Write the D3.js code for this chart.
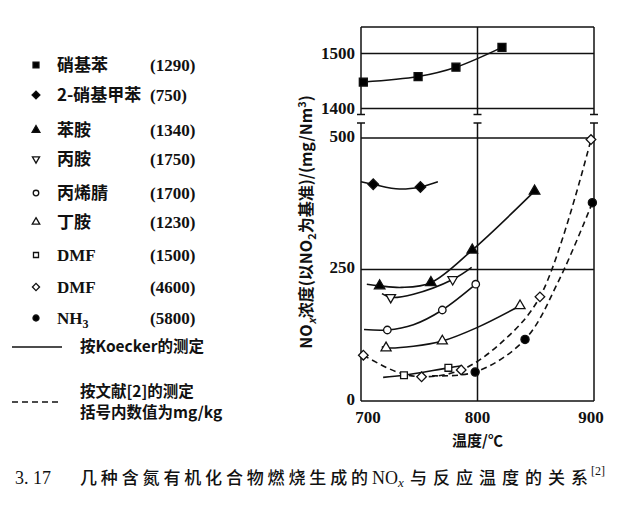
<!DOCTYPE html>
<html><head><meta charset="utf-8">
<script src="https://cdn.jsdelivr.net/npm/d3@7"></script>
<style>
html,body{margin:0;padding:0;background:#fff;}
svg{display:block;}
.cjk{font-family:"Noto Sans CJK SC","Noto Sans",sans-serif;font-weight:700;}
.ser{font-family:"Liberation Serif","DejaVu Serif",serif;}
</style></head>
<body>
<script>
// ---------- data ----------
const xTicks = [700, 800, 900];
const yTicksUpper = [1400, 1500];
const yTicksLower = [0, 250, 500];

// legend entries
const legendNames = ["硝基苯", "2-硝基甲苯", "苯胺", "丙胺", "丙烯腈", "丁胺", "DMF", "DMF", "NH3"];
const legendValues = ["(1290)", "(750)", "(1340)", "(1750)", "(1700)", "(1230)", "(1500)", "(4600)", "(5800)"];

// markers [temperature, NOx]
const nitrobenzenePts = [[702, 1448], [749, 1458], [781.5, 1475], [821, 1511]];
const nitrotoluenePts = [[710.5, 412], [751, 407]];
const anilinePts = [[716, 219], [760, 225], [795.5, 287], [849, 399]];
const propylaminePts = [[725.5, 197], [778.7, 231]];
const acrylonitrilePts = [[722.6, 135], [769.8, 173], [798.5, 222]];
const butylaminePts = [[721.5, 101], [769.8, 114], [836.5, 181]];
const dmf1500Pts = [[736.9, 49], [775, 63]];
const dmf4600Pts = [[702, 87], [752, 46], [786, 59], [853.6, 198], [897.4, 497]];
const nh3Pts = [[798, 55], [840.8, 117], [898.6, 377]];

// curve knots [temperature, NOx]
const nitrobenzeneCurve = [[702, 1448], [749, 1458], [781.5, 1475], [821, 1511]];
const nitrotolueneCurve = [[700, 417], [710.5, 412], [733, 403], [751, 407], [766, 417]];
const anilineCurve = [[705, 222], [716, 219], [735, 216], [760, 225], [795.5, 287], [849, 399]];
const propylamineCurve = [[718, 204], [725.5, 197], [745, 203], [778.7, 231], [795, 254]];
const acrylonitrileCurve = [[702.6, 136], [722.6, 135], [745, 145], [769.8, 173], [798.5, 222]];
const butylamineCurve = [[717.8, 103], [721.5, 101], [745, 104], [769.8, 114], [800, 140], [836.5, 181]];
const dmf1500Curve = [[719, 45], [736.9, 49], [775, 63], [787, 67]];
const dmf4600Curve = [[702, 87], [730, 56], [752, 46], [786, 59], [820, 110], [853.6, 198], [897.4, 497]];
const nh3Curve = [[761, 48], [798, 55], [840.8, 117], [870, 230], [898.6, 377]];

// ---------- styles ----------
const series = [
  {pts: nitrobenzenePts, curve: nitrobenzeneCurve, panel: "U", sym: "square", fill: "#000", size: 64, dash: null},
  {pts: nitrotoluenePts, curve: nitrotolueneCurve, panel: "L", sym: "diamond", fill: "#000", size: 56, dash: null},
  {pts: anilinePts, curve: anilineCurve, panel: "L", sym: "triangle", fill: "#000", size: 48, dash: null},
  {pts: propylaminePts, curve: propylamineCurve, panel: "L", sym: "tridown", fill: "#fff", size: 40, dash: null},
  {pts: acrylonitrilePts, curve: acrylonitrileCurve, panel: "L", sym: "circle", fill: "#fff", size: 44, dash: null},
  {pts: butylaminePts, curve: butylamineCurve, panel: "L", sym: "triangle", fill: "#fff", size: 44, dash: null},
  {pts: dmf1500Pts, curve: dmf1500Curve, panel: "L", sym: "square", fill: "#fff", size: 46, dash: null},
  {pts: dmf4600Pts, curve: dmf4600Curve, panel: "L", sym: "diamond", fill: "#fff", size: 46, dash: "6,4"},
  {pts: nh3Pts, curve: nh3Curve, panel: "L", sym: "circle", fill: "#000", size: 52, dash: "6,4"}
];

const W = 636, H = 506;
const svg = d3.select("body").append("svg").attr("width", W).attr("height", H);

const x = d3.scaleLinear().domain([700, 900]).range([361, 594]);
const yU = d3.scaleLinear().domain([1400, 1548]).range([108.5, 27]);
const yL = d3.scaleLinear().domain([0, 500]).range([401, 138]);

const ink = "#111";
const g = svg.append("g");

// upper panel frame
const uTop = yU.range()[1];
g.append("line").attr("x1", x(700)).attr("x2", x(900)).attr("y1", uTop).attr("y2", uTop).attr("stroke", ink).attr("stroke-width", 1.5);
yTicksUpper.forEach(v => {
  g.append("line").attr("x1", x(700)).attr("x2", x(900)).attr("y1", yU(v)).attr("y2", yU(v)).attr("stroke", ink).attr("stroke-width", 1.5);
});
const uBreak = yU(1400) + 6;
const lBreak = yL(500) - 15;
xTicks.forEach(t => {
  g.append("line").attr("x1", x(t)).attr("x2", x(t)).attr("y1", uTop).attr("y2", uBreak).attr("stroke", ink).attr("stroke-width", 1.5);
  g.append("line").attr("x1", x(t) - 4).attr("x2", x(t) + 4).attr("y1", uBreak).attr("y2", uBreak).attr("stroke", ink).attr("stroke-width", 1.5);
  g.append("line").attr("x1", x(t)).attr("x2", x(t)).attr("y1", lBreak).attr("y2", yL(0)).attr("stroke", ink).attr("stroke-width", 1.5);
  g.append("line").attr("x1", x(t) - 4).attr("x2", x(t) + 4).attr("y1", lBreak).attr("y2", lBreak).attr("stroke", ink).attr("stroke-width", 1.5);
});
yTicksLower.forEach(v => {
  g.append("line").attr("x1", x(700)).attr("x2", x(900)).attr("y1", yL(v)).attr("y2", yL(v)).attr("stroke", ink).attr("stroke-width", 1.5);
});

// tick labels
yTicksUpper.forEach(v => {
  g.append("text").attr("class", "ser").attr("font-weight", 700).attr("x", 355).attr("y", yU(v)).attr("dy", "0.35em")
    .attr("text-anchor", "end").attr("font-size", 17).attr("fill", ink).text(v);
});
yTicksLower.forEach(v => {
  g.append("text").attr("class", "ser").attr("font-weight", 700).attr("x", 355).attr("y", yL(v) - 2).attr("dy", "0.35em")
    .attr("text-anchor", "end").attr("font-size", 17).attr("fill", ink).text(v);
});
const xLabelShift = {700: 7, 800: 0, 900: -3};
xTicks.forEach(t => {
  g.append("text").attr("class", "ser").attr("font-weight", 700).attr("x", x(t) + xLabelShift[t]).attr("y", yL(0) + 22)
    .attr("text-anchor", "middle").attr("font-size", 17).attr("fill", ink).text(t);
});

// axis titles
g.append("text").attr("class", "cjk").attr("x", x(800)).attr("y", 446)
  .attr("text-anchor", "middle").attr("font-size", 15).attr("fill", ink).text("温度/℃");

const yt = g.append("text").attr("class", "cjk").attr("transform", "translate(312,222) rotate(-90)")
  .attr("text-anchor", "middle").attr("font-size", 16).attr("fill", ink);
yt.append("tspan").text("NO");
yt.append("tspan").attr("font-style", "italic").attr("font-size", 11).attr("dy", 4).text("x");
yt.append("tspan").attr("dy", -4).text("浓度(以NO");
yt.append("tspan").attr("font-size", 11).attr("dy", 4).text("2");
yt.append("tspan").attr("dy", -4).text("为基准)/(mg/Nm");
yt.append("tspan").attr("font-size", 11).attr("dy", -6).text("3");
yt.append("tspan").attr("dy", 6).text(")");

// symbols
function symPath(sym, size) {
  if (sym === "square") return d3.symbol(d3.symbolSquare, size)();
  if (sym === "diamond") return d3.symbol(d3.symbolSquare, size)();
  if (sym === "triangle" || sym === "tridown") return d3.symbol(d3.symbolTriangle, size)();
  return d3.symbol(d3.symbolCircle, size)();
}
function symRot(sym) {
  if (sym === "diamond") return 45;
  if (sym === "tridown") return 180;
  return 0;
}

const line = (yS) => d3.line().x(d => x(d[0])).y(d => yS(d[1])).curve(d3.curveCatmullRom.alpha(0.5));

series.forEach(s => {
  const yS = s.panel === "U" ? yU : yL;
  g.append("path").attr("d", line(yS)(s.curve)).attr("fill", "none").attr("stroke", ink)
    .attr("stroke-width", 1.6).attr("stroke-dasharray", s.dash);
});
series.forEach(s => {
  const yS = s.panel === "U" ? yU : yL;
  g.selectAll(null).data(s.pts).enter().append("path")
    .attr("d", symPath(s.sym, s.size))
    .attr("transform", d => `translate(${x(d[0])},${yS(d[1])}) rotate(${symRot(s.sym)})`)
    .attr("fill", s.fill).attr("stroke", ink).attr("stroke-width", 1.3);
});

// legend
const legendY = [65, 95, 130, 159, 193, 222, 255, 287, 318];
series.forEach((s, i) => {
  const yy = legendY[i];
  g.append("path").attr("d", symPath(s.sym, s.size * 0.55))
    .attr("transform", `translate(36,${yy}) rotate(${symRot(s.sym)})`)
    .attr("fill", s.fill).attr("stroke", ink).attr("stroke-width", 1.3);
  const name = legendNames[i];
  const t = g.append("text").attr("x", 57).attr("y", yy).attr("dy", "0.35em").attr("font-size", 17).attr("fill", ink);
  if (name === "NH3") {
    t.attr("class", "ser").attr("font-weight", 700);
    t.append("tspan").text("NH");
    t.append("tspan").attr("font-size", 12).attr("dy", 4).text("3");
  } else if (name === "DMF") {
    t.attr("class", "ser").attr("font-weight", 700).text(name);
  } else {
    t.attr("class", "cjk").text(name);
  }
  g.append("text").attr("class", "ser").attr("font-weight", 700).attr("x", 150).attr("y", yy).attr("dy", "0.35em")
    .attr("font-size", 17).attr("fill", ink).text(legendValues[i]);
});

g.append("line").attr("x1", 12).attr("x2", 62).attr("y1", 347).attr("y2", 347).attr("stroke", ink).attr("stroke-width", 1.6);
g.append("text").attr("class", "cjk").attr("x", 80).attr("y", 347).attr("dy", "0.35em").attr("font-size", 15.5).attr("fill", ink).text("按Koecker的测定");
g.append("line").attr("x1", 12).attr("x2", 62).attr("y1", 402).attr("y2", 402).attr("stroke", ink).attr("stroke-width", 1.4).attr("stroke-dasharray", "6,4");
g.append("text").attr("class", "cjk").attr("x", 80).attr("y", 392).attr("dy", "0.35em").attr("font-size", 15.5).attr("fill", ink).text("按文献[2]的测定");
g.append("text").attr("class", "cjk").attr("x", 80).attr("y", 413).attr("dy", "0.35em").attr("font-size", 15.5).attr("fill", ink).text("括号内数值为mg/kg");

// caption
const capY = 484;
g.append("text").attr("class", "ser").attr("x", 15).attr("y", capY).attr("font-size", 18).attr("fill", ink).text("3. 17");
g.append("text").attr("font-family", "Noto Sans CJK SC").attr("font-weight", 500).attr("x", 80).attr("y", capY).attr("font-size", 17)
  .attr("textLength", 288).attr("lengthAdjust", "spacing").attr("fill", ink).text("几种含氮有机化合物燃烧生成的");
const nox = g.append("text").attr("class", "ser").attr("x", 372).attr("y", capY).attr("font-size", 18).attr("fill", ink);
nox.append("tspan").text("NO");
nox.append("tspan").attr("font-style", "italic").attr("font-size", 13).attr("dy", 3).text("x");
g.append("text").attr("font-family", "Noto Sans CJK SC").attr("font-weight", 500).attr("x", 410).attr("y", capY).attr("font-size", 17)
  .attr("textLength", 178).attr("lengthAdjust", "spacing").attr("fill", ink).text("与反应温度的关系");
g.append("text").attr("class", "ser").attr("x", 591).attr("y", capY - 9).attr("font-size", 12).attr("fill", ink).text("[2]");
</script>
</body></html>
